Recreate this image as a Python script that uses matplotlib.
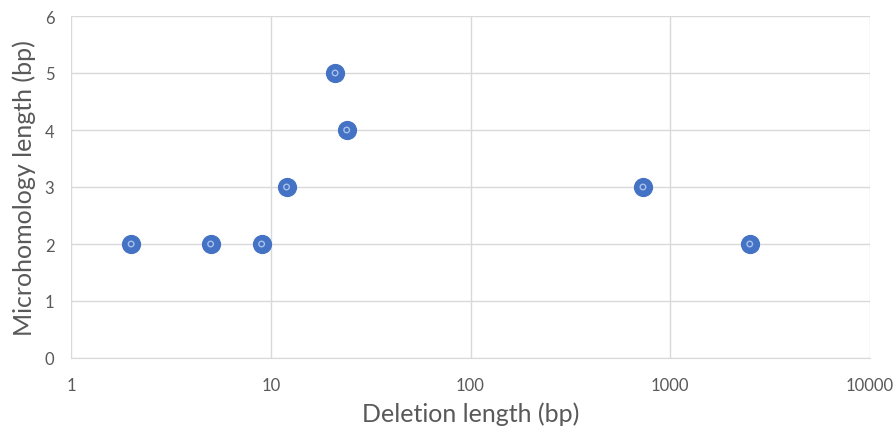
import matplotlib.pyplot as plt
import numpy as np

deletion_bp = [2, 5, 9, 12, 21, 24, 730, 2500]
microhomology_bp = [2, 2, 2, 3, 5, 4, 3, 2]

xticks = [1, 10, 100, 1000, 10000]
xtick_labels = ['1', '10', '100', '1000', '10000']
yticks = [0, 1, 2, 3, 4, 5, 6]

plt.rcParams['font.family'] = ['Lato', 'DejaVu Sans']

fig = plt.figure(figsize=(8.96, 4.31), dpi=100)
ax = fig.add_axes([71/896, 72/431, (870-71)/896, (414-72)/431])

# -- punti: cerchio blu con piccolo anello chiaro al centro
ax.scatter(deletion_bp, microhomology_bp, s=165, color='#4472C4', edgecolors='#4472C4', zorder=3)
ax.scatter(deletion_bp, microhomology_bp, s=16, facecolors='none', edgecolors='#A9C1EA', linewidths=1.0, zorder=4)

ax.set_xscale('log')
ax.set_xlim(1, 10000)
ax.set_ylim(0, 6)
ax.set_xticks(xticks)
ax.set_xticklabels(xtick_labels)
ax.minorticks_off()
ax.set_yticks(yticks)

ax.grid(True, color='#D9D9D9', linewidth=1)
ax.set_axisbelow(True)
for s in ['top', 'right', 'left']:
    ax.spines[s].set_visible(False)
ax.spines['bottom'].set_color('#D9D9D9')
ax.tick_params(length=0, labelsize=12, colors='#595959', pad=14)
ax.tick_params(axis='y', pad=12)

ax.set_xlabel('Deletion length (bp)', fontsize=18, color='#595959', labelpad=6)
ax.set_ylabel('Microhomology length (bp)', fontsize=18, color='#595959', labelpad=6)

fig.savefig('out.png', dpi=100)
